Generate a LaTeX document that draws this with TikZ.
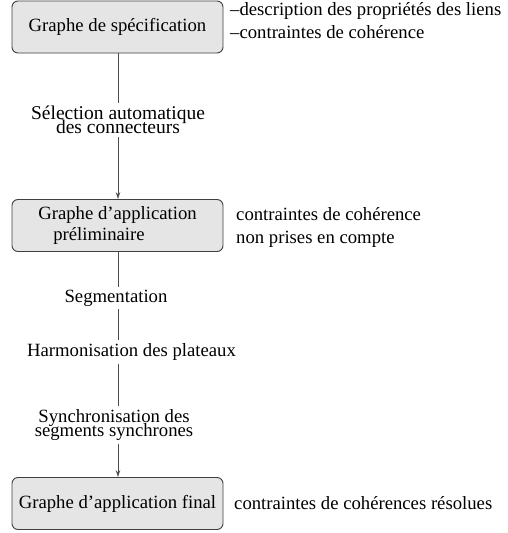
\documentclass[tikz,border=0pt]{standalone}
\usepackage{fontspec}
\setmainfont{Liberation Serif}
\usetikzlibrary{arrows.meta}
% label lines are set closer than their glyphs would normally allow
\newcommand\tightlabelfont[1]{\fontsize{#1}{14}\selectfont\lineskiplimit=-30pt\lineskip=0pt\relax}
\begin{document}
\begin{tikzpicture}[x=1pt,y=1pt,
  stage/.style={draw=black!75, line width=0.9pt, fill=black!10, rounded corners=6pt,
    minimum width=211pt, minimum height=52pt, inner sep=0pt, font=\fontsize{18.7}{21}\selectfont},
  steplabel/.style={inner sep=3pt, align=center, font={\tightlabelfont{18.7}}},
  note/.style={anchor=west, inner sep=0pt, align=left, font=\fontsize{18.7}{23}\selectfont},
  link/.style={draw=black!70, line width=0.8pt},
  flow/.style={link, -{Stealth[length=7pt,width=4.5pt]}}]
\useasboundingbox (0,0) rectangle (508,-533);

% stages of the process
\node[stage] (spec) at (117.5,-27) {Graphe de spécification};
\node[stage, align=left] (prelim) at (117.5,-225.5) {Graphe d'application\\\hspace{15pt}préliminaire};
\node[stage] (final) at (117.5,-503.5) {Graphe d'application final};

% operations between the stages
\node[steplabel, font={\tightlabelfont{19.5}}] (sel) at (118,-120) {Sélection automatique\\des connecteurs};
\node[steplabel] (seg) at (116,-298) {Segmentation};
\node[steplabel] (harm) at (131.5,-352) {Harmonisation des plateaux};
\node[steplabel] (sync) at (114,-425) {Synchronisation des\\segments synchrones};

% remarks on the right
\node[note] (specnote) at (230,-21) {--description des propriétés des liens\\--contraintes de cohérence};
\node[note] (prelimnote) at (236,-227) {contraintes de cohérence\\non prises en compte};
\node[note] (finalnote) at (234,-503) {contraintes de cohérences résolues};

% vertical flow
\draw[link] (spec.south -| 118,0) -- (sel.north -| 118,0);
\draw[flow] (sel.south -| 118,0) -- (prelim.north -| 118,0);
\draw[link] (prelim.south -| 118,0) -- (seg.north -| 118,0);
\draw[link] (seg.south -| 118,0) -- (harm.north -| 118,0);
\draw[link] (harm.south -| 118,0) -- (sync.north -| 118,0);
\draw[flow] (sync.south -| 118,0) -- (final.north -| 118,0);
\end{tikzpicture}
\end{document}
